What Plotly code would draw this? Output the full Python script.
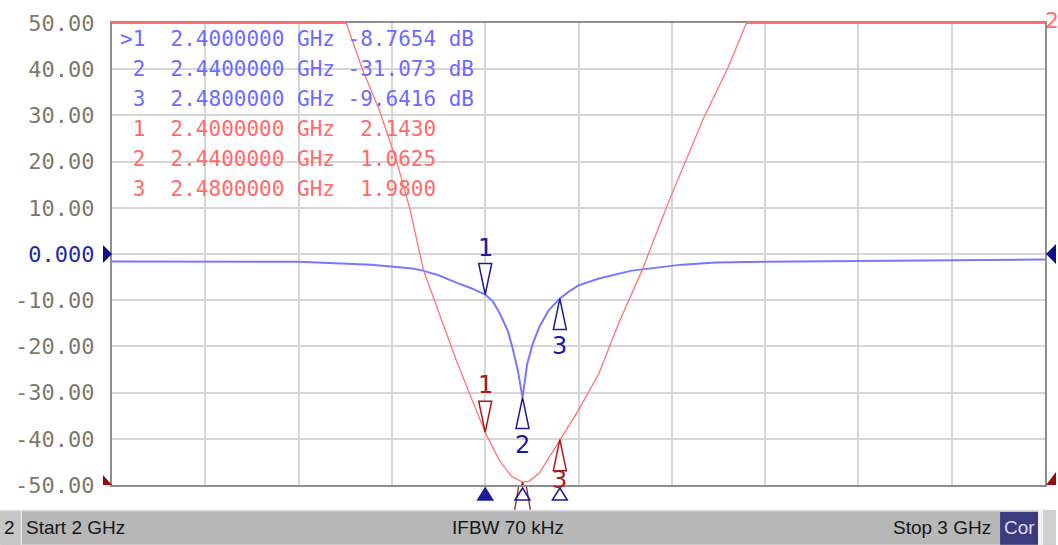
import plotly.graph_objects as go

# ---------------- data ----------------
s11_freq_ghz = [2.000, 2.100, 2.200, 2.278, 2.322, 2.333, 2.350, 2.369, 2.385, 2.400,
                2.408, 2.415, 2.424, 2.429, 2.435, 2.440, 2.445, 2.451, 2.458, 2.468, 2.480,
                2.490, 2.500, 2.522, 2.557, 2.611, 2.647, 2.700, 2.800, 2.900, 3.000]
s11_db = [-1.6, -1.6, -1.7, -2.35, -3.15, -3.6, -4.6, -6.2, -7.4, -8.7654,
          -10.2, -12.6, -16.5, -20.1, -25.2, -31.073, -23.8, -19.4, -15.8, -12.2, -9.6416,
          -8.1, -6.8, -5.3, -3.6, -2.3, -1.86, -1.7, -1.55, -1.35, -1.2]

swr_freq_ghz = [2.000, 2.251, 2.268, 2.287, 2.305, 2.319, 2.334, 2.369, 2.384, 2.400,
                2.415, 2.428, 2.440, 2.447, 2.458, 2.480, 2.500, 2.522, 2.543, 2.568,
                2.597, 2.634, 2.660, 2.680, 3.000]
swr = [11.0, 11.0, 10.02, 9.09, 8.01, 7.0, 5.64, 3.70, 2.94, 2.143,
       1.54, 1.19, 1.0625, 1.08, 1.26, 1.98, 2.62, 3.42, 4.50, 5.64,
       7.15, 8.94, 10.02, 11.0, 11.0]

marker_ids = [1, 2, 3]
marker_freq_ghz = [2.40, 2.44, 2.48]
marker_s11_db = [-8.7654, -31.073, -9.6416]
marker_swr = [2.1430, 1.0625, 1.9800]

y_tick_vals = [50, 40, 30, 20, 10, 0, -10, -20, -30, -40, -50]
y_tick_labels = ["50.00", "40.00", "30.00", "20.00", "10.00", "0.000",
                 "-10.00", "-20.00", "-30.00", "-40.00", "-50.00"]
x_range_ghz = [2.0, 3.0]
swr_range = [1.0, 11.0]
status_texts = {"chan": "2", "start": "Start 2 GHz", "ifbw": "IFBW 70 kHz",
                "stop": "Stop 3 GHz", "cor": "Cor"}

# ---------------- styling / layout helpers ----------------
W, H = 1058, 545
L, R, T, B = 112, 11, 22, 60
PW, PH = W - L - R, H - T - B

def px(x):  # pixel x -> paper
    return (x - L) / PW

def py(y):  # pixel y -> paper
    return (H - B - y) / PH

BLUE_TR = "#7878ff"
RED_TR = "#ff7373"
BLUE_MK = "#1c1c98"
RED_MK = "#a51c1c"
GRID = "#d6d6d6"
BORDER = "#8e8e8e"
TICKC = "#7d786c"
MONO = "DejaVu Sans Mono"

fig = go.Figure()
fig.add_trace(go.Scatter(x=s11_freq_ghz, y=s11_db, mode="lines",
                         line=dict(color=BLUE_TR, width=2), yaxis="y",
                         hoverinfo="skip", showlegend=False))
fig.add_trace(go.Scatter(x=swr_freq_ghz, y=swr, mode="lines",
                         line=dict(color=RED_TR, width=1.3), yaxis="y2",
                         hoverinfo="skip", showlegend=False))

tick_text = []
for v, t in zip(y_tick_vals, y_tick_labels):
    if v == 0:
        tick_text.append('<span style="color:#2626a6">' + t + '</span>')
    else:
        tick_text.append(t)

shapes = []
annotations = []

# red trace clipped at the top edge: draw over the border
shapes.append(dict(type="line", xref="x", yref="paper", x0=swr_freq_ghz[0], x1=swr_freq_ghz[1],
                   y0=1, y1=1, line=dict(color=RED_TR, width=2), layer="above"))
shapes.append(dict(type="line", xref="x", yref="paper", x0=swr_freq_ghz[-2], x1=swr_freq_ghz[-1],
                   y0=1, y1=1, line=dict(color=RED_TR, width=2), layer="above"))

# marker triangles in the plot
TW, TH = 6.5, 31
for mid, f, v in zip(marker_ids, marker_freq_ghz, marker_s11_db):
    if mid == 1:
        path = f"M {-TW} {TH} L {TW} {TH} L 0 0 Z"
        shift = 47
    else:
        path = f"M {-TW} {-TH} L {TW} {-TH} L 0 0 Z"
        shift = -47
    shapes.append(dict(type="path", xref="x", yref="y", xsizemode="pixel",
                       ysizemode="pixel", xanchor=f, yanchor=v, path=path,
                       fillcolor="white", line=dict(color=BLUE_MK, width=1.5),
                       layer="above"))
    annotations.append(dict(xref="x", yref="y", x=f, y=v, yshift=shift,
                            text=str(mid), showarrow=False,
                            font=dict(family="DejaVu Sans", size=24, color=BLUE_MK)))

for mid, f, v in zip(marker_ids, marker_freq_ghz, marker_swr):
    if mid == 1:
        path = f"M {-TW} {TH} L {TW} {TH} L 0 0 Z"
        shift = 47
    else:
        path = f"M {-TW} {-TH} L {TW} {-TH} L 0 0 Z"
        shift = -40
    shapes.append(dict(type="path", xref="x", yref="y2", xsizemode="pixel",
                       ysizemode="pixel", xanchor=f, yanchor=v, path=path,
                       fillcolor="white", line=dict(color=RED_MK, width=1.5),
                       layer="above"))
    if mid != 2:
        annotations.append(dict(xref="x", yref="y2", x=f, y=v, yshift=shift,
                                text=str(mid), showarrow=False,
                                font=dict(family="DejaVu Sans", size=24, color=RED_MK)))

# continuation of the lowest red marker below the axis (strip area)
min_idx = marker_swr.index(min(marker_swr))
shapes.append(dict(type="path", xref="x", yref="paper", xsizemode="pixel",
                   ysizemode="pixel", xanchor=marker_freq_ghz[min_idx], yanchor=0,
                   path="M -4 -2 L -8 -26 M 4 -2 L 8 -26",
                   line=dict(color=RED_MK, width=1.3)))

# marker strip under the axis
for mid, f in zip(marker_ids, marker_freq_ghz):
    filled = (mid == 1)
    shapes.append(dict(type="path", xref="x", yref="paper", xsizemode="pixel",
                       ysizemode="pixel", xanchor=f, yanchor=0,
                       path="M -7.5 -15 L 7.5 -15 L 0 -3 Z",
                       fillcolor=BLUE_MK if filled else "rgba(255,255,255,0)",
                       line=dict(color=BLUE_MK, width=1.5)))

# reference-level arrows
shapes.append(dict(type="path", xref="paper", yref="y", xsizemode="pixel",
                   ysizemode="pixel", xanchor=0, yanchor=0,
                   path="M -9 9 L -9 -9 L 0 0 Z", fillcolor="#10108a", line=dict(width=0)))
shapes.append(dict(type="path", xref="paper", yref="y2", xsizemode="pixel",
                   ysizemode="pixel", xanchor=0, yanchor=swr_range[0],
                   path="M -9 10 L -9 -10 L 0 0 Z", fillcolor="#9a0a0a", line=dict(width=0)))
shapes.append(dict(type="path", xref="paper", yref="y", xsizemode="pixel",
                   ysizemode="pixel", xanchor=1, yanchor=0,
                   path="M 11 10 L 11 -10 L 1 0 Z", fillcolor="#10108a", line=dict(width=0)))
shapes.append(dict(type="path", xref="paper", yref="y2", xsizemode="pixel",
                   ysizemode="pixel", xanchor=1, yanchor=swr_range[0],
                   path="M 11 13 L 11 -13 L 1 0 Z", fillcolor="#9a0a0a", line=dict(width=0)))

# marker readout table
rows = []
for mid, f, v in zip(marker_ids, marker_freq_ghz, marker_s11_db):
    pre = ">" if mid == 1 else " "
    rows.append((f"{pre}{mid}  {f:.7f} GHz {format(v, '.5g'):>7} dB", "#6c6cff"))
for mid, f, v in zip(marker_ids, marker_freq_ghz, marker_swr):
    rows.append((f" {mid}  {f:.7f} GHz {v:>7.4f}", "#ff6b6b"))
row_y = [38, 68, 98, 128, 158, 188]
for (txt, col), yy in zip(rows, row_y):
    annotations.append(dict(xref="paper", yref="paper", x=px(118), y=py(yy),
                            xanchor="left", yanchor="middle", showarrow=False,
                            text=txt.replace(" ", "\u00a0"),
                            font=dict(family=MONO, size=21, color=col)))

# trace label at top right
annotations.append(dict(xref="paper", yref="paper", x=px(1045), y=py(19),
                        xanchor="left", yanchor="middle", showarrow=False,
                        text="2", font=dict(family="DejaVu Sans", size=22, color="#ff6b6b")))

# status bar
def rect(x0, y0, x1, y1, color, line=None):
    shapes.append(dict(type="rect", xref="paper", yref="paper",
                       x0=px(x0), x1=px(x1), y0=py(y0), y1=py(y1),
                       fillcolor=color, line=line or dict(width=0), layer="above"))

rect(0, 510, W, H, "#b7b7b7")
rect(0, 510, 20, H, "#c6c6c6")
shapes.append(dict(type="line", xref="paper", yref="paper", x0=px(0), x1=px(W),
                   y0=py(510.5), y1=py(510.5), line=dict(color="#dedede", width=1.5), layer="above"))
shapes.append(dict(type="line", xref="paper", yref="paper", x0=px(21), x1=px(21),
                   y0=py(511), y1=py(H), line=dict(color="#e8e8e8", width=1.5), layer="above"))
rect(1002, 512, 1040, H, "#3b3b7e")
rect(1040, 510, 1045, H, "#f2f2f2")
rect(1045, 510, W, H, "#d0d0d0")

SB = dict(family="Liberation Sans", size=19, color="#161616")
annotations += [
    dict(xref="paper", yref="paper", x=px(2), y=py(528), xanchor="left", yanchor="middle",
         text=status_texts["chan"], showarrow=False, font=SB),
    dict(xref="paper", yref="paper", x=px(24), y=py(528), xanchor="left", yanchor="middle",
         text=status_texts["start"], showarrow=False, font=SB),
    dict(xref="paper", yref="paper", x=px(509), y=py(528), xanchor="center", yanchor="middle",
         text=status_texts["ifbw"], showarrow=False, font=SB),
    dict(xref="paper", yref="paper", x=px(995), y=py(528), xanchor="right", yanchor="middle",
         text=status_texts["stop"], showarrow=False, font=SB),
    dict(xref="paper", yref="paper", x=px(1021), y=py(528), xanchor="center", yanchor="middle",
         text=status_texts["cor"], showarrow=False,
         font=dict(family="Liberation Sans", size=19, color="#dcdcf4")),
]

fig.update_layout(
    width=W, height=H,
    margin=dict(l=L, r=R, t=T, b=B, pad=0),
    paper_bgcolor="white", plot_bgcolor="white",
    showlegend=False,
    xaxis=dict(range=x_range_ghz, dtick=0.1, tick0=2.0, showticklabels=False,
               showgrid=True, gridcolor=GRID, gridwidth=1.5, zeroline=False,
               showline=True, mirror=True, linecolor=BORDER, linewidth=2,
               ticks="", layer="below traces", fixedrange=True),
    yaxis=dict(range=[-50, 50], tickvals=y_tick_vals, ticktext=tick_text,
               tickfont=dict(family=MONO, size=22, color=TICKC),
               showgrid=True, gridcolor=GRID, gridwidth=1.5, zeroline=False,
               showline=True, mirror=True, linecolor=BORDER, linewidth=2,
               ticks="", ticklabelstandoff=11, layer="below traces", fixedrange=True),
    yaxis2=dict(range=swr_range, overlaying="y", side="right", visible=False,
                showgrid=False, zeroline=False, fixedrange=True),
    shapes=shapes,
    annotations=annotations,
)

fig.write_html("out.html", config={"displayModeBar": False},
               post_script="document.body.style.margin='0';document.body.style.overflow='hidden';")
